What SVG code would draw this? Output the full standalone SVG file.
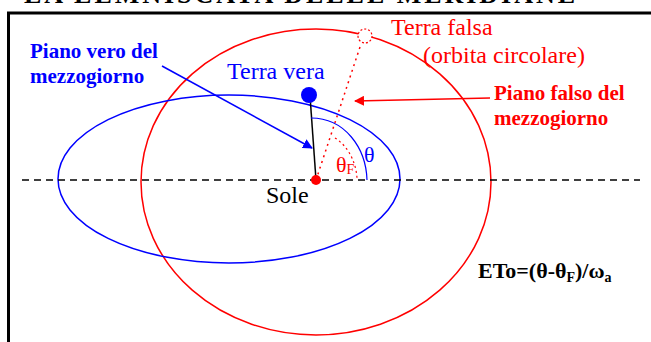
<svg xmlns="http://www.w3.org/2000/svg" width="651" height="342" viewBox="0 0 651 342" font-family="Liberation Serif, Times New Roman, serif">
<defs>
<marker id="ar" viewBox="0 0 10 10" refX="9" refY="5" markerWidth="10" markerHeight="10" markerUnits="userSpaceOnUse" orient="auto"><path d="M0,0 L10,5 L0,10 z" fill="#ff0000"/></marker>
<marker id="ab" viewBox="0 0 10 10" refX="9" refY="5" markerWidth="10" markerHeight="10" markerUnits="userSpaceOnUse" orient="auto"><path d="M0,0 L10,5 L0,10 z" fill="#0000ff"/></marker>
</defs>
<rect width="651" height="342" fill="#fff"/>
<text style="font-family:'Liberation Serif',serif" font-weight="bold" fill="#000" x="24" y="3" font-size="26" textLength="551"><tspan>LA LEMNISCATA DELLE MERIDIANE</tspan></text>
<path d="M8.5,345 V13 H660" fill="none" stroke="#000" stroke-width="3"/>
<g id="orbits">
<ellipse cx="316" cy="182" rx="175" ry="153" fill="none" stroke="#ff0000" stroke-width="1.5"/>
<ellipse cx="229" cy="179" rx="171" ry="84" fill="none" stroke="#0000ff" stroke-width="1.5"/>
</g>
<g id="connectors">
<line x1="22" y1="180" x2="640" y2="180" stroke="#000" stroke-width="1.5" stroke-dasharray="7,5"/>
<line x1="316" y1="180" x2="361" y2="44" stroke="#ff0000" stroke-width="1.5" stroke-dasharray="2,4"/>
<line x1="310" y1="96" x2="316" y2="180" stroke="#000" stroke-width="1.5"/>
<path d="M311,118 C345,118 366,148 367,180" fill="none" stroke="#0000ff" stroke-width="1.2"/>
<path d="M335,138 C348,146 356,162 357,178" fill="none" stroke="#ff0000" stroke-width="1.2" stroke-dasharray="2,3"/>
<line x1="490" y1="98" x2="355" y2="101" stroke="#ff0000" stroke-width="1.5" marker-end="url(#ar)"/>
<line x1="162" y1="66" x2="312" y2="148" stroke="#0000ff" stroke-width="1.5" marker-end="url(#ab)"/>
</g>
<g id="terra-falsa">
<circle cx="365" cy="36" r="7" fill="#fff" stroke="#ff0000" stroke-width="1.2" stroke-dasharray="2,2"/>
<text style="font-family:'Liberation Serif',serif" fill="#ff0000" x="391" y="35" font-size="24"><tspan>Terra falsa</tspan></text>
<text style="font-family:'Liberation Serif',serif" fill="#ff0000" x="423" y="63" font-size="24"><tspan>(orbita circolare)</tspan></text>
</g>
<g id="terra-vera">
<circle cx="309" cy="95" r="8" fill="#0000ff"/>
<text style="font-family:'Liberation Serif',serif" fill="#0000ff" x="227" y="79" font-size="24"><tspan>Terra vera</tspan></text>
</g>
<g id="sole">
<circle cx="316" cy="180" r="5" fill="#ff0000"/>
<text style="font-family:'Liberation Serif',serif" fill="#000" x="266" y="203" font-size="24"><tspan>Sole</tspan></text>
</g>
<g id="piano-falso">
<text style="font-family:'Liberation Serif',serif" font-weight="bold" fill="#ff0000" x="494" y="100" font-size="21"><tspan>Piano falso del</tspan></text>
<text style="font-family:'Liberation Serif',serif" font-weight="bold" fill="#ff0000" x="494" y="125" font-size="21"><tspan>mezzogiorno</tspan></text>
</g>
<g id="piano-vero">
<text style="font-family:'Liberation Serif',serif" font-weight="bold" fill="#0000ff" x="30" y="58" font-size="21"><tspan>Piano vero del</tspan></text>
<text style="font-family:'Liberation Serif',serif" font-weight="bold" fill="#0000ff" x="30" y="83" font-size="21"><tspan>mezzogiorno</tspan></text>
</g>
<g id="angles">
<text style="font-family:'Liberation Serif',serif" fill="#0000ff" x="364" y="162" font-size="22">θ</text>
<text style="font-family:'Liberation Serif',serif" fill="#ff0000" x="336" y="172" font-size="22">θ<tspan font-size="14" dy="2">F</tspan></text>
</g>
<g id="formula">
<text style="font-family:'Liberation Serif',serif" font-weight="bold" fill="#000" x="478" y="278" font-size="22">ETo=(θ-θ<tspan font-size="14" dy="4">F</tspan><tspan dy="-4">)/ω</tspan><tspan font-size="14" dy="4">a</tspan></text>
</g>
</svg>
